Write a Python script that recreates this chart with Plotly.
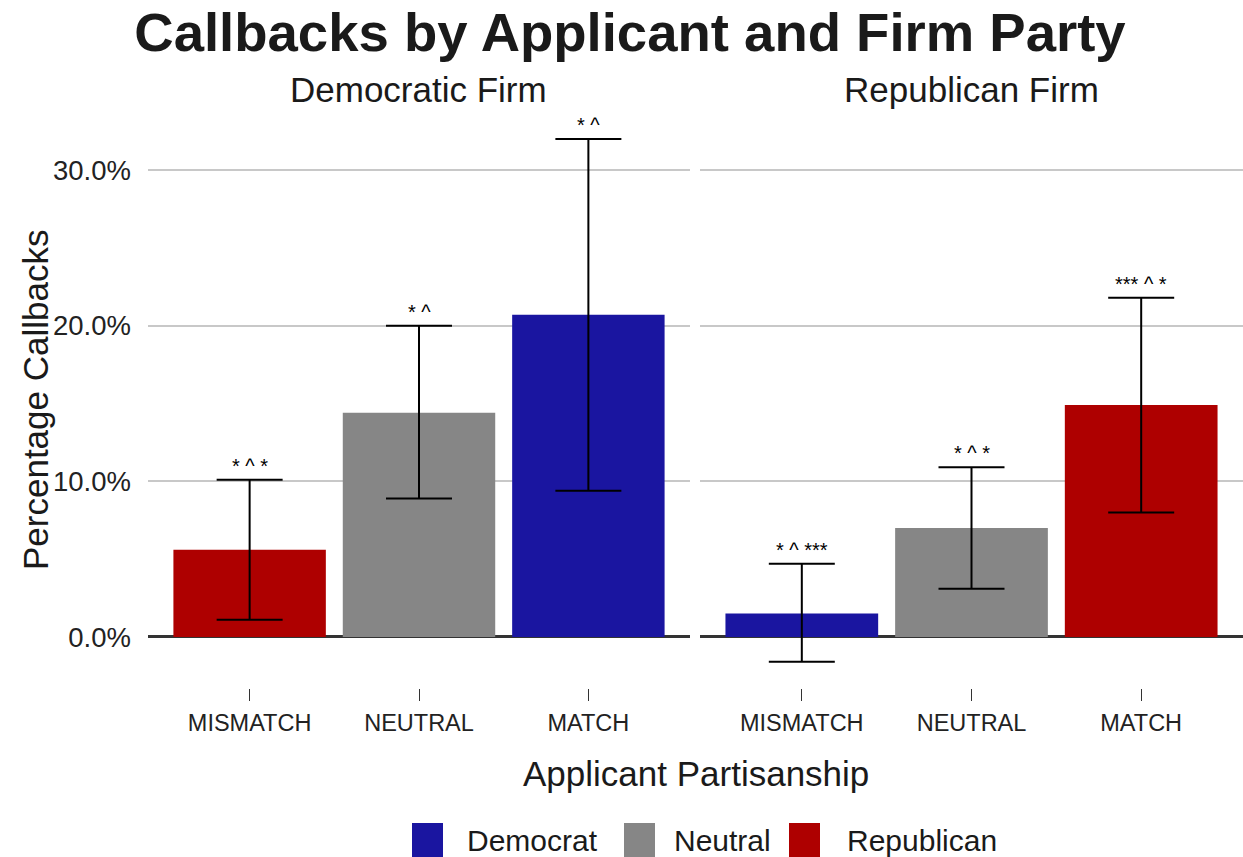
import plotly.graph_objects as go
from plotly.subplots import make_subplots

# ---- data -------------------------------------------------------------
firms = ["Democratic Firm", "Republican Firm"]
categories = ["MISMATCH", "NEUTRAL", "MATCH"]
parties = ["Democrat", "Neutral", "Republican"]

# applicant party behind each bar, per firm panel
dem_firm_party = ["Republican", "Neutral", "Democrat"]
rep_firm_party = ["Democrat", "Neutral", "Republican"]

# callback rates (%) with confidence bounds
dem_firm_rate = [5.6, 14.4, 20.7]
dem_firm_low = [1.1, 8.9, 9.4]
dem_firm_high = [10.1, 20.0, 32.0]
dem_firm_stars = ["* ^ *", "* ^", "* ^"]

rep_firm_rate = [1.5, 7.0, 14.9]
rep_firm_low = [-1.6, 3.1, 8.0]
rep_firm_high = [4.7, 10.9, 21.8]
rep_firm_stars = ["* ^ ***", "* ^ *", "*** ^ *"]

y_tick_values = [0, 10, 20, 30]
y_tick_labels = ["0.0%", "10.0%", "20.0%", "30.0%"]

party_colors = {"Democrat": "#1a15a0", "Neutral": "#868686", "Republican": "#ae0000"}

FONT = "Liberation Sans, Arial, Helvetica, sans-serif"
W, H = 1243, 857

panels = [
    (dem_firm_party, dem_firm_rate, dem_firm_low, dem_firm_high, dem_firm_stars),
    (rep_firm_party, rep_firm_rate, rep_firm_low, rep_firm_high, rep_firm_stars),
]

fig = make_subplots(rows=1, cols=2, shared_yaxes=True)

annotations = []
for col, (party_list, rate, low, high, stars) in enumerate(panels, start=1):
    for party in parties:
        idx = [i for i, p in enumerate(party_list) if p == party]
        if not idx:
            continue
        fig.add_trace(
            go.Bar(
                x=idx,
                y=[rate[i] for i in idx],
                width=0.9,
                marker=dict(color=party_colors[party], line=dict(width=0)),
                error_y=dict(
                    type="data",
                    symmetric=False,
                    array=[high[i] - rate[i] for i in idx],
                    arrayminus=[rate[i] - low[i] for i in idx],
                    color="black",
                    thickness=2,
                    width=33,
                ),
                name=party,
                showlegend=False,
            ),
            row=1, col=col,
        )
    xref = "x" if col == 1 else "x2"
    yref = "y" if col == 1 else "y2"
    for i, s in enumerate(stars):
        annotations.append(dict(
            x=i, y=high[i], xref=xref, yref=yref, text=s, showarrow=False,
            yanchor="middle", yshift=14, font=dict(family=FONT, size=20, color="black"),
        ))

# panel geometry
left_dom = [148 / W, 690 / W]
right_dom = [700 / W, 1.0]
y_dom = [1 - 688 / H, 1 - 112 / H]
y_range = [-3.28, 33.73]

xaxis_common = dict(
    range=[-0.6, 2.6], tickvals=[0, 1, 2], ticktext=categories,
    ticks="outside", ticklen=12, tickcolor="#333333", tickwidth=1,
    showgrid=False, zeroline=False, showline=False,
    tickfont=dict(family=FONT, size=23.5, color="#222222"),
    ticklabelstandoff=2,
)
yaxis_common = dict(
    domain=y_dom, range=y_range, tickvals=y_tick_values,
    showgrid=True, gridcolor="#c8c8c8", gridwidth=1.5,
    zeroline=True, zerolinecolor="#333333", zerolinewidth=3,
    showline=False, ticks="",
)
fig.update_layout(
    xaxis=dict(domain=left_dom, **xaxis_common),
    xaxis2=dict(domain=right_dom, **xaxis_common),
    yaxis=dict(
        ticktext=y_tick_labels,
        tickfont=dict(family=FONT, size=27.5, color="#222222"),
        ticklabelstandoff=16,
        **yaxis_common,
    ),
    yaxis2=dict(showticklabels=False, **yaxis_common),
)

# panel strip titles
for name, dom in zip(firms, [left_dom, right_dom]):
    annotations.append(dict(
        x=(dom[0] + dom[1]) / 2, y=1 - 90 / H, xref="paper", yref="paper",
        text=name, showarrow=False, xanchor="center", yanchor="middle",
        font=dict(family=FONT, size=35, color="#1a1a1a"),
    ))

# axis titles
annotations.append(dict(
    x=(left_dom[0] + right_dom[1]) / 2, y=1 - 773 / H, xref="paper", yref="paper",
    text="Applicant Partisanship", showarrow=False, xanchor="center", yanchor="middle",
    font=dict(family=FONT, size=35, color="#1a1a1a"),
))
annotations.append(dict(
    x=35 / W, y=1 - 400 / H, xref="paper", yref="paper",
    text="Percentage Callbacks", showarrow=False, textangle=-90,
    xanchor="center", yanchor="middle",
    font=dict(family=FONT, size=35, color="#1a1a1a"),
))

# legend keys
shapes = []
legend_keys = [(412, 465), (624, 672), (789, 845)]
for party, (kx, tx) in zip(parties, legend_keys):
    shapes.append(dict(
        type="rect", xref="paper", yref="paper",
        x0=kx / W, x1=(kx + 31) / W, y0=1 - 857 / H, y1=1 - 823 / H,
        fillcolor=party_colors[party], line=dict(width=0),
    ))
    annotations.append(dict(
        x=tx / W, y=1 - 840 / H, xref="paper", yref="paper",
        text=party, showarrow=False, xanchor="left", yanchor="middle",
        font=dict(family=FONT, size=30, color="#1a1a1a"),
    ))

fig.update_layout(
    width=W, height=H,
    margin=dict(l=0, r=0, t=0, b=0),
    paper_bgcolor="white", plot_bgcolor="white",
    barmode="overlay",
    showlegend=False,
    title=dict(
        text="<b>Callbacks by Applicant and Firm Party</b>",
        x=630 / W, y=1 - 32 / H, xanchor="center", yanchor="middle",
        font=dict(family=FONT, size=54.5, color="#1a1a1a"),
    ),
    annotations=annotations,
    shapes=shapes,
)

fig.write_html("out.html")
